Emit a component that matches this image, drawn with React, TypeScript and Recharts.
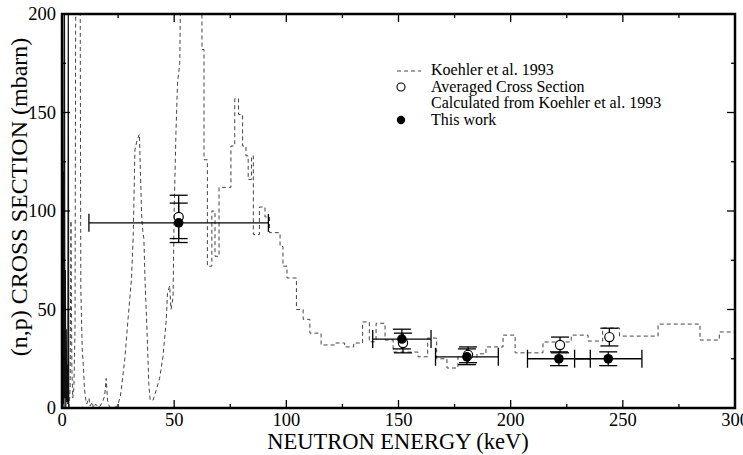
import { ComposedChart, Line, Scatter, XAxis, YAxis, ErrorBar } from "recharts";

// Koehler et al. 1993 (n,p) cross section, [keV, mbarn]
const KOEHLER: [number, number][] = [
  [3.2, 0], [3.6, 10], [4.0, 95], [4.4, 20], [4.8, 5], [5.3, 10], [5.8, 40], [6.2, 260],
  [8.0, 260], [8.4, 60], [9, 30], [9.5, 22], [10, 10], [10.5, 5], [11, 2], [12, 5],
  [12.5, 1], [13.5, 3], [14, 0], [15, 2], [16, 0.5], [17, 1], [18, 3], [19, 6],
  [19.7, 15], [20.3, 4], [21, 1], [22, 0], [24, 0.5], [25, 2], [26, 6], [26.5, 10],
  [28, 25], [29.5, 46], [31, 66], [31.8, 89], [32.5, 131], [33.5, 136], [34.5, 139],
  [35, 118], [35.5, 98], [36, 90], [36.5, 86], [37, 65], [38, 36], [38.7, 12], [39.3, 4],
  [40.6, 4], [42, 9], [43.5, 15], [45, 26], [46.5, 45], [47, 58], [48, 62], [48.6, 50],
  [49.5, 56], [50, 100], [50.8, 140], [51.5, 165], [52.5, 175], [53.3, 260],
  [62.3, 260], [62.4, 182], [63.3, 182], [63.3, 126], [64.8, 126], [64.8, 72], [66.8, 72],
  [66.8, 100], [68.2, 100], [68.2, 77], [70, 77], [70, 112], [75.3, 112], [75.3, 133],
  [77, 133], [77, 157], [78.7, 157], [78.7, 149], [80.5, 149], [80.5, 133], [82, 133],
  [82, 128], [83, 128], [83, 116], [84.5, 116], [84.5, 128], [85.3, 128], [85.3, 88],
  [88, 88], [88, 102], [90.5, 102], [90.5, 97], [92.5, 97], [92.5, 89], [97.2, 89],
  [97.2, 82], [98.5, 82], [98.5, 72], [100.3, 72], [100.3, 66], [104.5, 66], [104.5, 50],
  [107.5, 50], [107.5, 45], [110.5, 45], [110.5, 38], [115.5, 38], [115.5, 32], [122, 32],
  [122, 33], [126, 33], [126, 31], [130, 31], [130, 33], [134, 33], [134, 43.7], [137, 43.7],
  [137, 33.6], [140, 33.6], [140, 43], [144, 43], [144, 34.5], [147.6, 34.5], [147.6, 28.4],
  [158.7, 28.4], [158.7, 26], [163, 26], [163, 35.5], [167, 35.5], [167, 25], [171.6, 25],
  [171.6, 20.3], [176.5, 20.3], [176.5, 26], [185, 26], [185, 27.5], [189, 27.5], [189, 31],
  [196.6, 31], [196.6, 37], [202, 37], [202, 28], [214.4, 28], [214.4, 33.5], [227, 33.5],
  [227, 37], [234.5, 37], [234.5, 34], [241, 34], [241, 40.6], [248.5, 40.6], [248.5, 36.5],
  [265.7, 36.5], [265.7, 42.6], [284.4, 42.6], [284.4, 34.5], [293, 34.5], [293, 38.6],
  [300, 38.6],
];

// dense low-energy resonances (drawn solid)
const LOW: [number, number][] = [
  [0.1, 0], [0.3, 210], [0.5, 2], [0.7, 120], [0.9, 0], [1.1, 210], [1.3, 5], [1.5, 70],
  [1.7, 0], [1.9, 40], [2.1, 3], [2.4, 22], [2.6, 2], [2.8, 210], [3.0, 0], [3.2, 0],
];

// averaged cross section calculated from Koehler et al. 1993
const AVG_E = [52, 152, 181, 222, 244];
const AVG_S = [97, 33, 27, 32, 36];
const AVG_ERR = [11, 5, 4, 4, 4.5];

// this work
const WORK_E = [52, 151.5, 180.5, 221.5, 243.5];
const WORK_S = [94, 35, 26, 25, 25];
const WORK_ERR = [10, 5, 4, 3.5, 3.5];
const WORK_XERR = [40, 13, 14, 14, 15];

const X_TICKS = [0, 25, 50, 75, 100, 125, 150, 175, 200, 225, 250, 275, 300];
const Y_TICKS = [0, 25, 50, 75, 100, 125, 150, 175, 200];

const koehlerData = KOEHLER.map(([x, y]) => ({ x, y }));
const lowData = LOW.map(([x, y]) => ({ x, y }));
const avgData = AVG_E.map((x, i) => ({ x, y: AVG_S[i], ey: AVG_ERR[i] }));
const workData = WORK_E.map((x, i) => ({ x, y: WORK_S[i], ey: WORK_ERR[i], ex: WORK_XERR[i] }));

const FONT = "Liberation Serif, Times New Roman, serif";
const W = 743;
const H = 455;
const M = { top: 14, right: 8, bottom: 0, left: 0 };
const Y_AXIS_W = 62;
const X_AXIS_H = 47;
const PLOT_W = W - M.left - M.right - Y_AXIS_W;
const PLOT_H = H - M.top - M.bottom - X_AXIS_H;
const GAP = 6;
const MAJOR = 8;
const MINOR = 4;

const isMajor = (v: number) => v % 50 === 0;
const serif = { fontFamily: FONT };

// ticks point inward, drawn on both opposite sides of the frame
function BottomTick(props: any) {
  const { x, y, payload } = props;
  const v = payload.value;
  const bottom = y - GAP;
  const top = bottom - PLOT_H;
  const len = isMajor(v) ? MAJOR : MINOR;
  return (
    <g>
      <line x1={x} x2={x} y1={bottom} y2={bottom - len} stroke="#000" strokeWidth={1.3} />
      <line x1={x} x2={x} y1={top} y2={top + len} stroke="#000" strokeWidth={1.3} />
      {isMajor(v) && (
        <text x={x} y={y - 1} dy="0.71em" textAnchor="middle" fontSize={18.5} style={serif} fill="#000">
          {v}
        </text>
      )}
    </g>
  );
}

function LeftTick(props: any) {
  const { x, y, payload } = props;
  const v = payload.value;
  const left = x + GAP;
  const right = left + PLOT_W;
  const len = isMajor(v) ? MAJOR : MINOR;
  return (
    <g>
      <line x1={left} x2={left + len} y1={y} y2={y} stroke="#000" strokeWidth={1.3} />
      <line x1={right} x2={right - len} y1={y} y2={y} stroke="#000" strokeWidth={1.3} />
      {isMajor(v) && (
        <text x={x} y={y} dy="0.35em" textAnchor="end" fontSize={18.5} style={serif} fill="#000">
          {v}
        </text>
      )}
    </g>
  );
}

const filledDot = (p: any) => <circle cx={p.cx} cy={p.cy} r={4.8} fill="#000" />;
const openDot = (p: any) => <circle cx={p.cx} cy={p.cy} r={4.6} fill="#fff" stroke="#000" strokeWidth={1.2} />;

export default function App() {
  return (
    <div style={{ position: "absolute", left: 0, top: 0, width: W, height: H, background: "#fff", fontFamily: FONT }}>
      <ComposedChart width={W} height={H} margin={M}>
        <XAxis
          type="number"
          dataKey="x"
          domain={[0, 300]}
          ticks={X_TICKS}
          interval={0}
          allowDataOverflow
          height={X_AXIS_H}
          tickSize={0}
          tickMargin={GAP}
          tick={<BottomTick />}
          axisLine={false}
        />
        <YAxis
          type="number"
          domain={[0, 200]}
          ticks={Y_TICKS}
          interval={0}
          allowDataOverflow
          width={Y_AXIS_W}
          tickSize={0}
          tickMargin={GAP}
          tick={<LeftTick />}
          axisLine={false}
        />
        <Line
          data={lowData}
          dataKey="y"
          type="linear"
          stroke="#111"
          strokeWidth={1.2}
          dot={false}
          isAnimationActive={false}
        />
        <Line
          data={koehlerData}
          dataKey="y"
          type="linear"
          stroke="#444"
          strokeWidth={1}
          strokeDasharray="4 3"
          dot={false}
          isAnimationActive={false}
        />
        <Scatter data={avgData} dataKey="y" shape={openDot} isAnimationActive={false}>
          <ErrorBar dataKey="ey" direction="y" width={9} stroke="#000" strokeWidth={1.3} />
        </Scatter>
        <Scatter data={workData} dataKey="y" shape={filledDot} isAnimationActive={false}>
          <ErrorBar dataKey="ey" direction="y" width={9} stroke="#000" strokeWidth={1.3} />
          <ErrorBar dataKey="ex" direction="x" width={9} stroke="#000" strokeWidth={1.3} />
        </Scatter>
      </ComposedChart>
      <svg
        width={W}
        height={H}
        style={{ position: "absolute", left: 0, top: 0, pointerEvents: "none", fontFamily: FONT }}
      >
        {/* plot frame */}
        <rect
          x={M.left + Y_AXIS_W}
          y={M.top}
          width={PLOT_W}
          height={PLOT_H}
          fill="none"
          stroke="#000"
          strokeWidth={2.5}
        />
        <text x={398} y={449} textAnchor="middle" fontSize={22.5} fill="#000">
          NEUTRON ENERGY (keV)
        </text>
        <text
          x={0}
          y={0}
          transform="translate(27, 197) rotate(-90)"
          textAnchor="middle"
          fontSize={24}
          fill="#000"
        >
          (n,p) CROSS SECTION (mbarn)
        </text>
        <line x1={397} x2={421} y1={71} y2={71} stroke="#444" strokeWidth={1} strokeDasharray="4 3" />
        <text x={431} y={75} fontSize={16} fill="#000">Koehler et al. 1993</text>
        <circle cx={401} cy={87} r={4} fill="#fff" stroke="#000" strokeWidth={1.1} />
        <text x={431} y={92} fontSize={16} fill="#000">Averaged Cross Section</text>
        <text x={431} y={108} fontSize={16} fill="#000">Calculated from Koehler et al. 1993</text>
        <circle cx={401} cy={120} r={4.2} fill="#000" />
        <text x={431} y={125} fontSize={16} fill="#000">This work</text>
      </svg>
    </div>
  );
}
